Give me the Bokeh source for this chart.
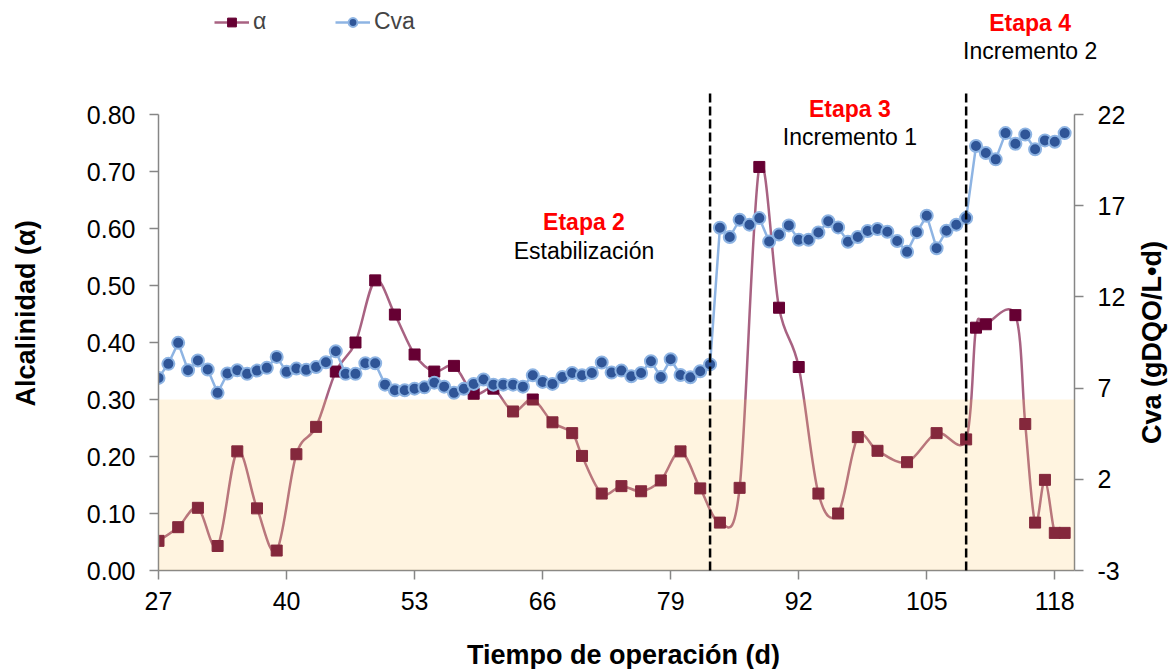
import math

from bokeh.core.properties import value
from bokeh.embed import file_html
from bokeh.models import (BoxAnnotation, FixedTicker, Legend, LegendItem,
                          LinearAxis, NumeralTickFormatter, Range1d)
from bokeh.plotting import figure
from bokeh.resources import INLINE

FONT = "Liberation Sans"

# Alkalinity ratio (α) sampled on selected operating days
alpha_days = [27, 29, 31, 33, 35, 37, 39, 41, 43, 45, 47, 49, 51, 53, 55, 57, 59, 61,
              63, 65, 67, 69, 70, 72, 74, 76, 78, 80, 82, 84, 86, 88, 90, 92, 94, 96,
              98, 100, 103, 106, 109, 110, 111, 114, 115, 116, 117, 118, 119]
alpha_vals = [0.052, 0.076, 0.110, 0.043, 0.209, 0.109, 0.035, 0.204, 0.252, 0.349,
              0.400, 0.509, 0.449, 0.379, 0.349, 0.359, 0.310, 0.319, 0.279, 0.300,
              0.260, 0.241, 0.201, 0.135, 0.148, 0.139, 0.158, 0.209, 0.144, 0.084,
              0.145, 0.708, 0.461, 0.357, 0.135, 0.100, 0.234, 0.210, 0.190, 0.241,
              0.230, 0.426, 0.432, 0.448, 0.257, 0.084, 0.159, 0.066, 0.066]

# Daily volumetric organic load Cva (gDQO/L·d), days 27..119
cva_days = list(range(27, 120))
cva_vals = [7.56, 8.33, 9.48, 7.98, 8.51, 8.02, 6.74, 7.80, 7.98, 7.78,
            7.96, 8.11, 8.71, 7.89, 8.07, 8.00, 8.16, 8.42, 9.02, 7.78,
            7.78, 8.36, 8.36, 7.19, 6.88, 6.88, 6.97, 7.04, 7.30, 7.08,
            6.74, 6.96, 7.23, 7.47, 7.19, 7.19, 7.19, 7.08, 7.70, 7.34,
            7.23, 7.61, 7.83, 7.70, 7.83, 8.40, 7.85, 7.96, 7.65, 7.83,
            8.47, 7.61, 8.58, 7.72, 7.59, 7.92, 8.30, 15.79, 15.28, 16.23,
            15.96, 16.32, 15.04, 15.42, 15.92, 15.13, 15.13, 15.53, 16.15, 15.81,
            15.02, 15.28, 15.61, 15.72, 15.57, 15.06, 14.47, 15.55, 16.45, 14.67,
            15.63, 15.96, 16.32, 20.27, 19.89, 19.54, 20.98, 20.40, 20.90, 20.09,
            20.58, 20.51, 20.98]

x_ticks = [27, 40, 53, 66, 79, 92, 105, 118]
alpha_ticks = [0.0, 0.1, 0.2, 0.3, 0.4, 0.5, 0.6, 0.7, 0.8]
cva_ticks = [-3, 2, 7, 12, 17, 22]

stage_bounds = [83, 109]          # days where stages 3 and 4 start
alpha_threshold = 0.30            # upper limit of the recommended α zone

stage_titles = ["Etapa 2", "Etapa 3", "Etapa 4"]
stage_notes = ["Estabilización", "Incremento 1", "Incremento 2"]

# ---- layout constants -------------------------------------------------------
X_MIN, X_MAX = 27, 120
A_MIN, A_MAX, A_TOP = 0.0, 0.8, 1.0          # α axis spans 0..0.8, frame reaches 1.0
C_MIN, C_MAX = -3, 22
C_TOP = C_MIN + (C_MAX - C_MIN) * (A_TOP - A_MIN) / (A_MAX - A_MIN)

label_x = [70.2, 97.2, 115.5]
title_y = [0.612, 0.809, 0.960]
note_y = [0.561, 0.761, 0.912]
dash_top = 0.842
left_title_pos = (13.5, 0.451)
right_title_pos = (127.85, 0.400)
bottom_title_pos = (74.2, -0.148)

ALPHA_LINE = "#A86282"
ALPHA_MARK = "#660033"
CVA_LINE = "#8EB4E3"
CVA_MARK = "#2F5597"
AXIS_GREY = "#868686"


def smooth_segments(xs, ys):
    """Cubic Bezier pieces (Catmull-Rom style) through consecutive points."""
    n = len(xs)
    out = {k: [] for k in ("x0", "y0", "x1", "y1", "cx0", "cy0", "cx1", "cy1")}
    for i in range(n - 1):
        xa, ya = (xs[i - 1], ys[i - 1]) if i > 0 else (xs[i], ys[i])
        xd, yd = (xs[i + 2], ys[i + 2]) if i + 2 < n else (xs[i + 1], ys[i + 1])
        out["x0"].append(xs[i]); out["y0"].append(ys[i])
        out["x1"].append(xs[i + 1]); out["y1"].append(ys[i + 1])
        out["cx0"].append(xs[i] + (xs[i + 1] - xa) / 6.0)
        out["cy0"].append(ys[i] + (ys[i + 1] - ya) / 6.0)
        out["cx1"].append(xs[i + 1] - (xd - xs[i]) / 6.0)
        out["cy1"].append(ys[i + 1] - (yd - ys[i]) / 6.0)
    return out


p = figure(width=1170, height=669, output_backend="svg", toolbar_location=None,
           x_range=Range1d(X_MIN, X_MAX), y_range=Range1d(A_MIN, A_TOP),
           min_border_left=158, min_border_right=96, min_border_top=0,
           min_border_bottom=99)
p.outline_line_color = None
p.xgrid.visible = False
p.ygrid.visible = False
p.background_fill_color = "white"
p.extra_y_ranges = {"cva": Range1d(C_MIN, C_TOP)}

# α series: smoothed curve plus square markers
seg = smooth_segments(alpha_days, alpha_vals)
alpha_curve = p.bezier(x0=seg["x0"], y0=seg["y0"], x1=seg["x1"], y1=seg["y1"],
                       cx0=seg["cx0"], cy0=seg["cy0"], cx1=seg["cx1"], cy1=seg["cy1"],
                       line_color=ALPHA_LINE, line_width=2.5)
alpha_pts = p.scatter(alpha_days, alpha_vals, marker="square", size=11,
                      fill_color=ALPHA_MARK, line_color=ALPHA_MARK, line_width=1)

# Cva series on the secondary axis
cva_line = p.line(cva_days, cva_vals, y_range_name="cva",
                  line_color=CVA_LINE, line_width=2.5)
cva_pts = p.scatter(cva_days, cva_vals, y_range_name="cva", marker="circle", size=12,
                    fill_color=CVA_MARK, line_color=CVA_LINE, line_width=2)

# translucent zone below the α threshold, laid over the series
p.add_layout(BoxAnnotation(bottom=A_MIN, top=alpha_threshold, fill_color="#FFC864",
                           fill_alpha=0.2, line_color=None))

# stage boundaries
p.segment(x0=stage_bounds, y0=[A_MIN] * len(stage_bounds), x1=stage_bounds,
          y1=[dash_top] * len(stage_bounds), line_color="black", line_width=2.5,
          line_dash="9 4", level="overlay")

# stage captions (overlay level so the last one may run past the frame edge)
p.text(x=label_x, y=title_y, text=stage_titles, text_font=value(FONT),
       text_font_style="bold", text_font_size="23px", text_color="#FF0000",
       text_align="center", text_baseline="middle", level="overlay")
p.text(x=label_x, y=note_y, text=stage_notes, text_font=value(FONT),
       text_font_size="23px", text_color="black",
       text_align="center", text_baseline="middle", level="overlay")

# axis titles, placed freely around the frame
p.text(x=[left_title_pos[0], right_title_pos[0]],
       y=[left_title_pos[1], right_title_pos[1]],
       text=["Alcalinidad (α)", "Cva (gDQO/L•d)"], angle=math.pi / 2,
       text_font=value(FONT), text_font_style="bold", text_font_size="27px",
       text_color="black", text_align="center", text_baseline="middle",
       level="overlay")
p.text(x=[bottom_title_pos[0]], y=[bottom_title_pos[1]],
       text=["Tiempo de operación (d)"],
       text_font=value(FONT), text_font_style="bold", text_font_size="27px",
       text_color="black", text_align="center", text_baseline="middle",
       level="overlay")


# axes
def style_axis(ax):
    ax.axis_line_color = AXIS_GREY
    ax.axis_line_width = 1.5
    ax.major_tick_line_color = AXIS_GREY
    ax.major_tick_line_width = 1.5
    ax.major_tick_out = 9
    ax.major_tick_in = 0
    ax.minor_tick_out = 0
    ax.minor_tick_in = 0
    ax.major_label_text_font = FONT
    ax.major_label_text_font_size = "25px"
    ax.major_label_text_color = "black"


xa = p.xaxis[0]
style_axis(xa)
xa.ticker = FixedTicker(ticks=x_ticks)
xa.major_label_standoff = 12

ya = p.yaxis[0]
style_axis(ya)
ya.ticker = FixedTicker(ticks=alpha_ticks)
ya.formatter = NumeralTickFormatter(format="0.00")
ya.bounds = (A_MIN, A_MAX)
ya.major_label_standoff = 14

yr = LinearAxis(y_range_name="cva", ticker=FixedTicker(ticks=cva_ticks),
                formatter=NumeralTickFormatter(format="0"), bounds=(C_MIN, C_MAX))
style_axis(yr)
yr.major_label_standoff = 14
p.add_layout(yr, "right")

# legend across the top
legend = Legend(items=[LegendItem(label="α", renderers=[alpha_curve, alpha_pts]),
                       LegendItem(label="Cva", renderers=[cva_line, cva_pts])],
                location=(56, 535), orientation="horizontal",
                glyph_width=35, glyph_height=22, label_standoff=4, spacing=62,
                padding=0, margin=0, border_line_color=None,
                background_fill_alpha=0, label_text_font=FONT,
                label_text_font_size="23px")
p.add_layout(legend)

open("out.html", "w").write(file_html(p, INLINE))
